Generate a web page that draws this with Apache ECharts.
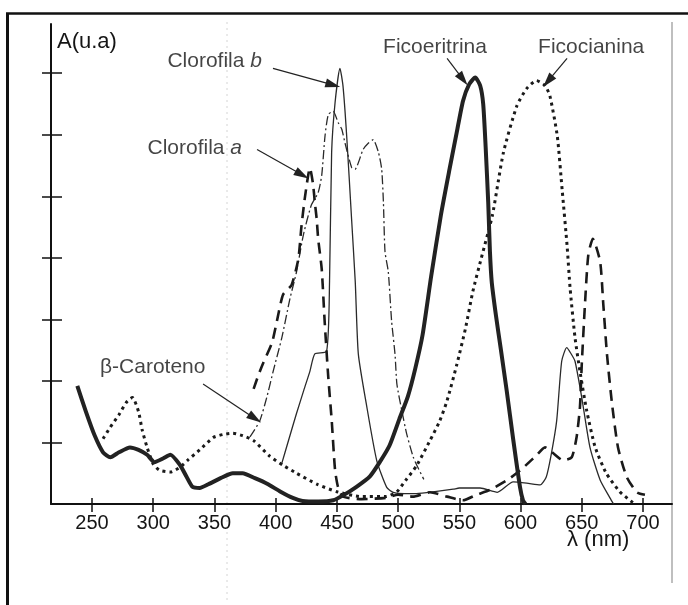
<!DOCTYPE html>
<html>
<head>
<meta charset="utf-8">
<script src="https://cdn.jsdelivr.net/npm/echarts@6/dist/echarts.min.js"></script>
<style>
html,body{margin:0;padding:0;background:#fff;}
#chart{width:688px;height:605px;}
</style>
</head>
<body>
<div id="chart"></div>
<script>
// ---- data (wavelength nm, absorbance a.u.) ----
const ficoeritrina = [[238,1.92],[245,1.5],[252,1.12],[259,0.84],[265,0.76],[272,0.84],[281,0.92],[288,0.88],[295,0.8],[301,0.68],[308,0.74],[314,0.8],[322,0.63],[327,0.45],[332,0.28],[338,0.26],[345,0.32],[355,0.42],[365,0.5],[373,0.5],[383,0.42],[393,0.33],[404,0.2],[414,0.1],[422,0.05],[435,0.04],[447,0.06],[455,0.14],[466,0.28],[477,0.45],[485,0.68],[493,0.95],[501,1.38],[508,1.75],[514,2.2],[520,2.75],[527,3.7],[535,4.7],[542,5.44],[548,6.05],[553,6.55],[558,6.82],[563,6.93],[567,6.8],[569.5,6.5],[571.5,5.8],[573.6,4.9],[575,4.1],[576.5,3.6],[580,3.05],[584,2.5],[588.7,1.84],[594,1.05],[599.6,0.27],[602,0.06],[604,0]];
const ficocianina = [[259,1.06],[265,1.25],[272,1.45],[278,1.65],[283,1.73],[288,1.5],[291,1.2],[295,0.92],[300,0.65],[305,0.55],[314,0.52],[322,0.6],[328,0.71],[338,0.88],[349,1.08],[357,1.13],[365,1.15],[373,1.11],[382,1.03],[395,0.78],[406,0.63],[417,0.5],[434,0.32],[450,0.2],[470,0.12],[490,0.12],[499,0.2],[506,0.38],[515,0.62],[526,1.03],[534,1.35],[540,1.68],[548,2.27],[555,2.85],[561,3.45],[568,4.0],[577,4.69],[586,5.71],[597,6.47],[605,6.75],[613,6.88],[620,6.8],[624,6.63],[630,5.98],[634,5.1],[638,4.2],[640.5,3.5],[644.5,2.7],[648.5,2.16],[654,1.52],[661,0.92],[670,0.5],[681,0.2],[690,0.05],[693,0]];
const clorofilaA = [[382,1.87],[386,2.1],[390,2.3],[397,2.62],[401,2.97],[406,3.4],[413,3.56],[418.5,3.98],[421,4.5],[424,5.0],[428,5.46],[430.5,5.2],[432,4.9],[433.5,4.63],[434.7,4.31],[437.6,3.82],[440,2.97],[443,2.05],[445.8,1.35],[448.5,0.55],[451,0.27],[455,0.12],[470,0.08],[490,0.1],[500,0.15],[512,0.12],[526,0.19],[540,0.12],[553,0.06],[564,0.15],[575,0.23],[590,0.4],[600,0.55],[606,0.66],[613,0.79],[620,0.92],[627,0.82],[634.7,0.71],[641.8,0.76],[645.8,1.09],[648.5,1.57],[650,2.27],[652.6,3.24],[655.3,4.04],[659,4.31],[665,3.94],[667.6,3.24],[670.6,2.43],[674.7,1.63],[679.6,0.92],[686.7,0.44],[695,0.19],[701.6,0.15]];
const clorofilaB = [[405,0.66],[410,1.0],[417,1.47],[423,1.85],[428,2.16],[432,2.44],[441.6,2.48],[444,3.61],[445.7,5.71],[448.5,6.52],[452.5,7.08],[455,6.79],[458,5.98],[462,4.63],[465,3.61],[467.5,2.44],[474,1.63],[482.5,0.71],[490.7,0.27],[496,0.19],[505,0.17],[515,0.17],[530,0.2],[545,0.24],[550,0.26],[567,0.26],[581,0.19],[594,0.36],[605,0.34],[616,0.31],[621,0.44],[625,0.8],[629.5,1.35],[633.6,2.32],[637.7,2.54],[641,2.45],[644.5,2.32],[650,1.73],[656.7,0.92],[665,0.39],[673,0.1],[676,0]];
const betaCaroteno = [[379,1.09],[387,1.35],[392.7,1.73],[398,2.16],[405,2.7],[411.7,3.34],[417,3.77],[422.6,4.37],[429,4.85],[434.7,5.06],[437.6,5.34],[440.3,5.98],[443,6.33],[447,6.38],[451,6.2],[454,6.09],[456.6,5.87],[462,5.47],[464.8,5.44],[471.4,5.76],[476,5.87],[479.7,5.92],[484,5.71],[486.6,5.44],[488,4.9],[489.3,4.1],[492,3.77],[494.7,2.97],[497.5,2.43],[499,1.95],[503,1.52],[507,1.14],[512.4,0.76],[516,0.6],[521,0.4]];
const xTicks = [250,300,350,400,450,500,550,600,650,700];
const yTicks = [1,2,3,4,5,6,7];
// annotation labels: [x, y, text, side]
const labelData = [
  [388.8,7.19,'Clorofila b','left'],
  [372.5,5.78,'Clorofila a','left'],
  [256.5,2.23,'β-Caroteno','right'],
  [487.7,7.42,'Ficoeritrina','right'],
  [614.3,7.42,'Ficocianina','right']
];
// arrows: [fromX, fromY, toX, toY]
const arrowData = [
  [397.8,7.08,446.8,6.81],
  [384.8,5.76,421.5,5.35],
  [340.7,1.95,383,1.39],
  [540,7.24,553,6.9],
  [638,7.24,622.4,6.87]
];

const FONT = "'Liberation Sans', Arial, sans-serif";
const INK = '#151515';
const chart = echarts.init(document.getElementById('chart'), null, {renderer:'canvas'});

function lineSeries(name, data, width, type, color){
  return {name, type:'line', data, showSymbol:false, smooth:0.2, animation:false,
    lineStyle:{width, type, color, cap:'butt', join:'round'}, z:3};
}
const richLabel = {
  n:{fontFamily:FONT, fontSize:21, color:INK},
  i:{fontFamily:FONT, fontSize:21, color:INK, fontStyle:'italic'}
};

const option = {
  animation:false,
  backgroundColor:'#fff',
  grid:{left:51, right:16, top:24, bottom:101, containLabel:false},
  xAxis:[{
    type:'value', min:216.5, max:723.7, position:'bottom',
    axisLine:{show:true, lineStyle:{color:'#111', width:2}},
    axisTick:{show:true, inside:false, length:8, customValues:xTicks, lineStyle:{color:'#111', width:1.5}},
    axisLabel:{show:true, customValues:xTicks, margin:9, fontFamily:FONT, fontSize:20, color:INK},
    splitLine:{show:false}
  },{
    type:'value', min:216.5, max:723.7, position:'bottom',
    axisLine:{show:false},
    axisTick:{show:true, inside:true, length:6, customValues:xTicks, lineStyle:{color:'#111', width:1.5}},
    axisLabel:{show:false},
    splitLine:{show:false}
  }],
  yAxis:[{
    type:'value', min:0, max:7.8, position:'left',
    axisLine:{show:true, lineStyle:{color:'#111', width:2}},
    axisTick:{show:true, inside:false, length:9, customValues:yTicks, lineStyle:{color:'#111', width:1.5}},
    axisLabel:{show:false},
    splitLine:{show:false}
  },{
    type:'value', min:0, max:7.8, position:'left',
    axisLine:{show:false},
    axisTick:{show:true, inside:true, length:11, customValues:yTicks, lineStyle:{color:'#111', width:1.5}},
    axisLabel:{show:false},
    splitLine:{show:false}
  }],
  series:[
    lineSeries('Clorofila b', clorofilaB, 1.3, 'solid', '#2a2a2a'),
    lineSeries('β-Caroteno', betaCaroteno, 1.3, [9,3,2,3], '#2a2a2a'),
    lineSeries('Clorofila a', clorofilaA, 2.6, [11,7], '#1a1a1a'),
    lineSeries('Ficocianina', ficocianina, 3, [3,4], '#1a1a1a'),
    lineSeries('Ficoeritrina', ficoeritrina, 4, 'solid', '#222'),
    {
      type:'scatter', symbolSize:0, clip:false, silent:true, z:5,
      data: labelData.map(d => ({value:[d[0], d[1]], label:{position:d[3]}, name:d[2]})),
      label:{show:true, distance:0, formatter:p => {
        const t = p.name;
        if (t === 'Clorofila b') return '{n|Clorofila }{i|b}';
        if (t === 'Clorofila a') return '{n|Clorofila }{i|a}';
        return '{n|' + t + '}';
      }, rich:richLabel},
      markLine:{
        silent:true, symbol:['none','triangle'], symbolSize:[9,15],
        label:{show:false},
        lineStyle:{color:'#222', width:1.2, type:'solid'},
        data: arrowData.map(a => [{coord:[a[0],a[1]]},{coord:[a[2],a[3]]}])
      }
    }
  ],
  graphic:[
    {type:'line', shape:{x1:6, y1:13.5, x2:688, y2:13.5}, style:{stroke:'#111', lineWidth:2.5}, z:10},
    {type:'line', shape:{x1:7.5, y1:13, x2:7.5, y2:605}, style:{stroke:'#111', lineWidth:3}, z:10},
    {type:'line', shape:{x1:672, y1:22, x2:672, y2:583}, style:{stroke:'#aaa', lineWidth:1.5}, z:0},
    {type:'line', shape:{x1:227, y1:22, x2:227, y2:600}, style:{stroke:'#d4d4d4', lineWidth:1, lineDash:[2,4]}, z:0},
    {type:'text', left:57, top:31, style:{text:'A(u.a)', fontFamily:FONT, fontSize:22, fill:INK}},
    {type:'text', left:567, top:529, style:{text:'λ (nm)', fontFamily:FONT, fontSize:22, fill:INK}}
  ]
};
chart.setOption(option);
</script>
</body>
</html>
